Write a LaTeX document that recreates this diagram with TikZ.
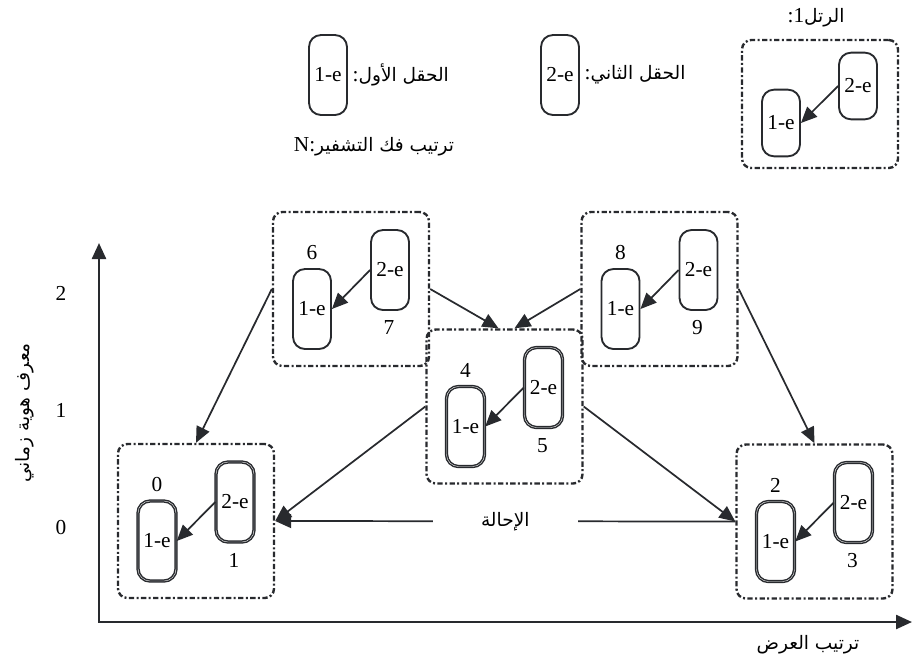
\documentclass[tikz,border=0pt]{standalone}
\usepackage{fontspec}
\setmainfont{Liberation Serif}
\newfontfamily\arabicfont[Script=Arabic,Scale=0.87]{DejaVu Sans}
\TeXXeTstate=1
\usetikzlibrary{arrows.meta,calc}
\definecolor{ink}{RGB}{40,42,46}
\tikzset{
  field/.style={draw=ink, line width=1.4pt, rounded corners=9pt,
    minimum width=28.5pt, minimum height=60pt, inner sep=0pt},
  dfield/.style={field, line width=1.1pt, double=white, double distance=0.3pt},
  frame/.style={draw=ink, line width=1.8pt, rounded corners=7pt,
    dash pattern={on 4pt off 1.8pt on 1.5pt off 1.8pt},
    minimum width=117pt, minimum height=115.5pt},
  arr/.style={draw=ink, line width=1.3pt, -{Triangle[length=12pt,width=10.5pt]}},
  axis/.style={draw=ink, line width=1.8pt,
    {Triangle[length=12pt,width=10.5pt]}-{Triangle[length=12pt,width=10.5pt]}}
}
\begin{document}
\begin{tikzpicture}[x=0.75pt,y=-0.75pt,font=\fontsize{16}{19}\selectfont]
  \useasboundingbox (0,0) rectangle (913,661);

  % legend
  \node[field] (leg1) at (328,75) {1-e};
  \node[anchor=west] (leg1t) at (leg1.east) {:{\arabicfont\beginR الحقل الأول\endR}};
  \node[field] (leg2) at (560,75) {2-e};
  \node[anchor=west] (leg2t) at (leg2.east) {:{\arabicfont\beginR الحقل الثاني\endR}};
  \node (order) at (374,147) {N:{\arabicfont\beginR ترتيب فك التشفير\endR}};

  % legend ring
  \node (ttl) at (816,18) {:1{\arabicfont\beginR الرتل\endR}};
  \node[frame, minimum height=96pt] (fl) at (820,104) {};
  \node[field, minimum height=50pt] (bl) at (858,86) {2-e};
  \node[field, minimum height=50pt] (al) at (781,123) {1-e};
  \draw[arr] (bl.west) -- (al.east);

  % axes
  \coordinate (o) at (99,622);
  \coordinate (ytip) at (99,243);
  \coordinate (xtip) at (912,622);
  \draw[axis] (ytip) -- (o) -- (xtip);
  \foreach \t/\y in {0/527,1/410,2/293}
    \node (tick\t) at (61,\y) {\t};
  \node[rotate=90] (ylab) at (25,413) {\arabicfont\beginR معرف هوية زماني\endR};
  \node (xlab) at (808,645) {\arabicfont\beginR ترتيب العرض\endR};

  % rings
  \foreach \r/\x/\y/\a/\b/\s in {67/351/289/6/7/field, 89/659.5/289/8/9/field,
      45/504.5/406.5/4/5/dfield, 01/196/521/0/1/dfield, 23/814.5/521.5/2/3/dfield}
  {
    \node[frame] (f\r) at (\x,\y) {};
    \node[\s] (b\r) at (\x+39,\y-19) {2-e};
    \node[\s] (a\r) at (\x-39,\y+20) {1-e};
    \node (t\r) at (\x-39,\y-36) {\a};
    \node (u\r) at (\x+38,\y+39) {\b};
    \draw[arr] (b\r.west) -- (a\r.east);
  }

  % references between rings
  \draw[arr] (f67.west) -- (f01.north);
  \draw[arr] (f67.east) -- ($(f45.north)+(-6,0)$);
  \draw[arr] (f89.west) -- ($(f45.north)+(10,0)$);
  \draw[arr] (f89.east) -- (f23.north);
  \draw[arr] (f45.west) -- (f01.east);
  \draw[arr] (f45.east) -- (f23.west);
  \draw[arr] (f23.west) -- node[fill=white, minimum width=109pt] (ihala)
    {\arabicfont\beginR الإحالة\endR} (f01.east);
\end{tikzpicture}
\end{document}
